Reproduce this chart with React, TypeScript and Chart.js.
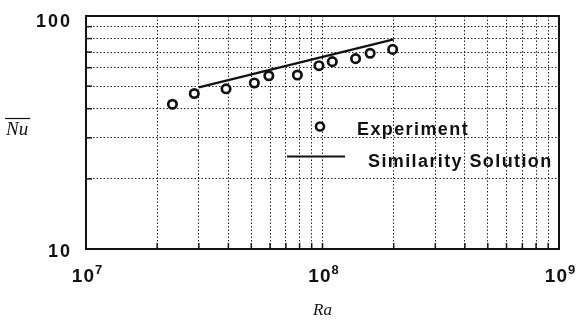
import React, { useEffect, useRef } from "react";
import { Chart, registerables } from "chart.js";

Chart.register(...registerables);

// Experiment data (Ra, mean Nu)
const experimentRa = [2.32e7, 2.87e7, 3.91e7, 5.15e7, 5.93e7, 7.83e7, 9.66e7, 1.1e8, 1.38e8, 1.59e8, 1.98e8];
const experimentNu = [41.8, 46.5, 48.7, 51.6, 55.4, 55.8, 61.2, 63.7, 65.6, 69.2, 71.9];

// Similarity solution (straight line on log-log axes)
const solutionRa = [3.0e7, 2.0e8];
const solutionNu = [49.4, 79.4];

// Axis ticks
const xTickValues = [1e7, 2e7, 3e7, 4e7, 5e7, 6e7, 7e7, 8e7, 9e7, 1e8, 2e8, 3e8, 4e8, 5e8, 6e8, 7e8, 8e8, 9e8, 1e9];
const yTickValues = [10, 20, 30, 40, 50, 60, 70, 80, 90, 100];
const xLabelValues = [1e7, 1e8, 1e9];
const xLabelBases = ["10", "10", "10"];
const xLabelExponents = ["7", "8", "9"];
const yLabelValues = [100, 10];
const yLabelTexts = ["100", "10"];

const legendLabels = ["Experiment", "Similarity Solution"];
const xTitle = "Ra";
const yTitle = "Nu";

const SANS = '"Liberation Sans", Arial, Helvetica, sans-serif';
const SERIF = '"Liberation Serif", "Times New Roman", serif';
const INK = "#111";

function setSpacing(ctx: any, v: string) {
  try {
    ctx.letterSpacing = v;
  } catch (e) {}
}

const overlayPlugin = {
  id: "overlay",
  afterDatasetsDraw(chart: any) {
    const ctx = chart.ctx;
    const { left, right, top, bottom } = chart.chartArea;
    const xs = chart.scales.x;
    const ys = chart.scales.y;
    ctx.save();
    ctx.strokeStyle = INK;
    ctx.fillStyle = INK;

    // frame
    ctx.lineWidth = 2;
    ctx.strokeRect(left, top, right - left, bottom - top);

    // inward tick marks
    ctx.lineWidth = 1.5;
    xTickValues.forEach((v) => {
      const x = xs.getPixelForValue(v);
      ctx.beginPath();
      ctx.moveTo(x, bottom);
      ctx.lineTo(x, bottom - 6);
      ctx.stroke();
    });
    yTickValues.forEach((v) => {
      const y = ys.getPixelForValue(v);
      ctx.beginPath();
      ctx.moveTo(left, y);
      ctx.lineTo(left + 6, y);
      ctx.stroke();
    });

    // y tick labels
    ctx.font = `bold 18px ${SANS}`;
    setSpacing(ctx, "2px");
    ctx.textAlign = "right";
    ctx.textBaseline = "alphabetic";
    yLabelValues.forEach((v, i) => {
      const y = ys.getPixelForValue(v);
      ctx.fillText(yLabelTexts[i], left - 14, y + (i === 0 ? 10.5 : 8));
    });
    setSpacing(ctx, "0px");

    // x tick labels with superscript
    xLabelValues.forEach((v, i) => {
      const x = xs.getPixelForValue(v);
      ctx.font = `bold 19px ${SANS}`;
      setSpacing(ctx, "1px");
      const wb = ctx.measureText(xLabelBases[i]).width;
      ctx.font = `bold 13px ${SANS}`;
      setSpacing(ctx, "0px");
      const we = ctx.measureText(xLabelExponents[i]).width;
      const start = x - (wb + we) / 2 + 1;
      ctx.textAlign = "left";
      ctx.font = `bold 19px ${SANS}`;
      setSpacing(ctx, "1px");
      ctx.fillText(xLabelBases[i], start, bottom + 33);
      setSpacing(ctx, "0px");
      ctx.font = `bold 13px ${SANS}`;
      ctx.fillText(xLabelExponents[i], start + wb, bottom + 25);
    });

    // axis titles
    ctx.font = `italic 17px ${SERIF}`;
    ctx.textAlign = "center";
    ctx.fillText(xTitle, xs.getPixelForValue(1e8), bottom + 66);

    ctx.font = `italic 19px ${SERIF}`;
    ctx.textAlign = "left";
    const nw = ctx.measureText(yTitle).width;
    ctx.fillText(yTitle, 6, 135);
    ctx.lineWidth = 1.2;
    ctx.beginPath();
    ctx.moveTo(5, 118.5);
    ctx.lineTo(8 + nw, 118.5);
    ctx.stroke();

    // legend
    ctx.lineWidth = 2.6;
    ctx.fillStyle = "#fff";
    ctx.beginPath();
    ctx.arc(320, 126.5, 4, 0, Math.PI * 2);
    ctx.fill();
    ctx.stroke();
    ctx.fillStyle = INK;
    ctx.lineWidth = 2.2;
    ctx.beginPath();
    ctx.moveTo(287, 156.5);
    ctx.lineTo(345, 156.5);
    ctx.stroke();
    ctx.font = `bold 18px ${SANS}`;
    setSpacing(ctx, "1.4px");
    ctx.textAlign = "left";
    ctx.fillText(legendLabels[0], 357, 135);
    ctx.fillText(legendLabels[1], 368, 166.5);
    setSpacing(ctx, "0px");

    ctx.restore();
  },
};

export default function App() {
  const canvasRef = useRef<HTMLCanvasElement | null>(null);

  useEffect(() => {
    document.body.style.margin = "0";
    const canvas = canvasRef.current;
    if (!canvas) return;
    const chart = new Chart(canvas, {
      type: "scatter",
      data: {
        datasets: [
          {
            label: legendLabels[0],
            data: experimentRa.map((x, i) => ({ x, y: experimentNu[i] })),
            pointStyle: "circle",
            pointRadius: 4.2,
            pointBorderWidth: 2.7,
            pointBorderColor: INK,
            pointBackgroundColor: "#fff",
            showLine: false,
            order: 1,
          },
          {
            label: legendLabels[1],
            data: solutionRa.map((x, i) => ({ x, y: solutionNu[i] })),
            showLine: true,
            borderColor: INK,
            borderWidth: 2.3,
            pointRadius: 0,
            order: 2,
          },
        ],
      },
      options: {
        responsive: false,
        animation: false,
        devicePixelRatio: 1,
        layout: { padding: { left: 86, top: 16, right: 18, bottom: 73 } },
        plugins: { legend: { display: false }, tooltip: { enabled: false }, title: { display: false } },
        scales: {
          x: {
            type: "logarithmic",
            min: 1e7,
            max: 1e9,
            afterBuildTicks: (scale: any) => {
              scale.ticks = xTickValues.map((value) => ({ value }));
            },
            ticks: { display: false },
            grid: { color: "#222", lineWidth: 1, drawTicks: false },
            border: { display: false, dash: [1.5, 2] },
          },
          y: {
            type: "logarithmic",
            min: 10,
            max: 100,
            afterBuildTicks: (scale: any) => {
              scale.ticks = yTickValues.map((value) => ({ value }));
            },
            ticks: { display: false },
            grid: { color: "#222", lineWidth: 1, drawTicks: false },
            border: { display: false, dash: [1.5, 2] },
          },
        },
      },
      plugins: [overlayPlugin],
    } as any);
    return () => chart.destroy();
  }, []);

  return (
    <div style={{ position: "absolute", left: 0, top: 0, width: 577, height: 322, background: "#fff" }}>
      <canvas ref={canvasRef} width={577} height={322} style={{ width: 577, height: 322, display: "block" }} />
    </div>
  );
}
